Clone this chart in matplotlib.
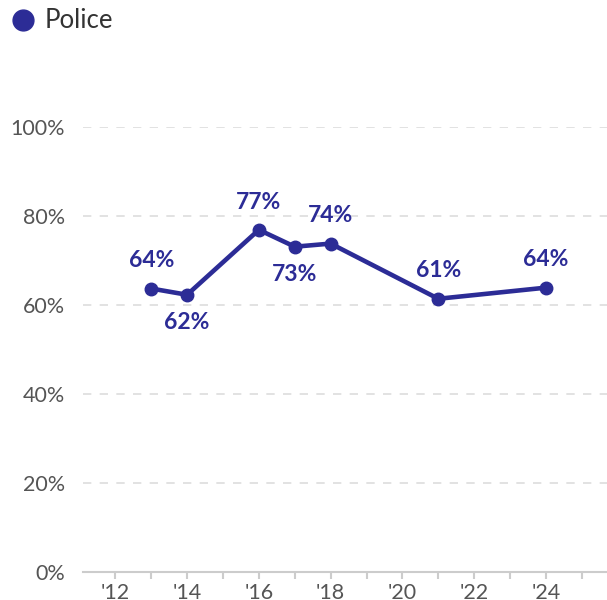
import matplotlib.pyplot as plt
from matplotlib.lines import Line2D
from matplotlib.ticker import FuncFormatter, MultipleLocator

plt.rcParams['font.family'] = ['Lato', 'DejaVu Sans']

years = [2013, 2014, 2016, 2017, 2018, 2021, 2024]
police = [63.7, 62.3, 76.9, 73.1, 73.8, 61.4, 63.9]
labels = ['64%', '62%', '77%', '73%', '74%', '61%', '64%']
label_pos = ['above', 'below', 'above', 'below', 'above', 'above', 'above']

color = '#2c2c96'
grey = '#555555'

fig = plt.figure(figsize=(6.07, 6.0), dpi=100)
ax = fig.add_axes([83 / 607, 1 - 572 / 600, 1 - 83 / 607, (572 - 127) / 600])

ax.plot(years, police, color=color, lw=3.3, marker='o', markersize=9,
        solid_joinstyle='round', clip_on=False, zorder=3)

# value labels, about 28 px above or below the point
for x, y, txt, pos in zip(years, police, labels, label_pos):
    dy = 20 if pos == 'above' else -20
    ax.annotate(txt, (x, y), xytext=(0, dy), textcoords='offset points',
                ha='center', va='center', color=color, fontsize=16.5,
                fontweight='bold')

ax.set_xlim(2011.1, 2025.7)
ax.set_ylim(0, 100)
ax.set_xticks(range(2012, 2025, 2))
ax.set_xticklabels(["'%d" % (y % 100) for y in range(2012, 2025, 2)])
ax.xaxis.set_minor_locator(MultipleLocator(1))
ax.yaxis.set_major_locator(MultipleLocator(20))
ax.yaxis.set_major_formatter(FuncFormatter(lambda v, p: '%d%%' % v))

ax.grid(axis='y', color='#dddddd', lw=1.2, ls=(0, (5, 5)))
ax.set_axisbelow(True)
for s in ['top', 'right', 'left']:
    ax.spines[s].set_visible(False)
ax.spines['bottom'].set_color('#cccccc')
ax.spines['bottom'].set_linewidth(1.5)

ax.tick_params(axis='y', length=0, pad=13, labelsize=15.5, labelcolor=grey)
ax.tick_params(axis='x', which='both', length=5, width=1.5, color='#cccccc',
               pad=3, labelsize=15.5, labelcolor=grey)
ax.tick_params(axis='x', which='minor', labelbottom=False)

# legend drawn by hand in figure coordinates
fig.add_artist(Line2D([23 / 607], [1 - 20 / 600], color=color, marker='o',
                      markersize=15, transform=fig.transFigure))
fig.text(45 / 607, 1 - 21 / 600, 'Police', va='center', ha='left',
         fontsize=18.5, color='#333333')

fig.savefig('out.png', dpi=100)
